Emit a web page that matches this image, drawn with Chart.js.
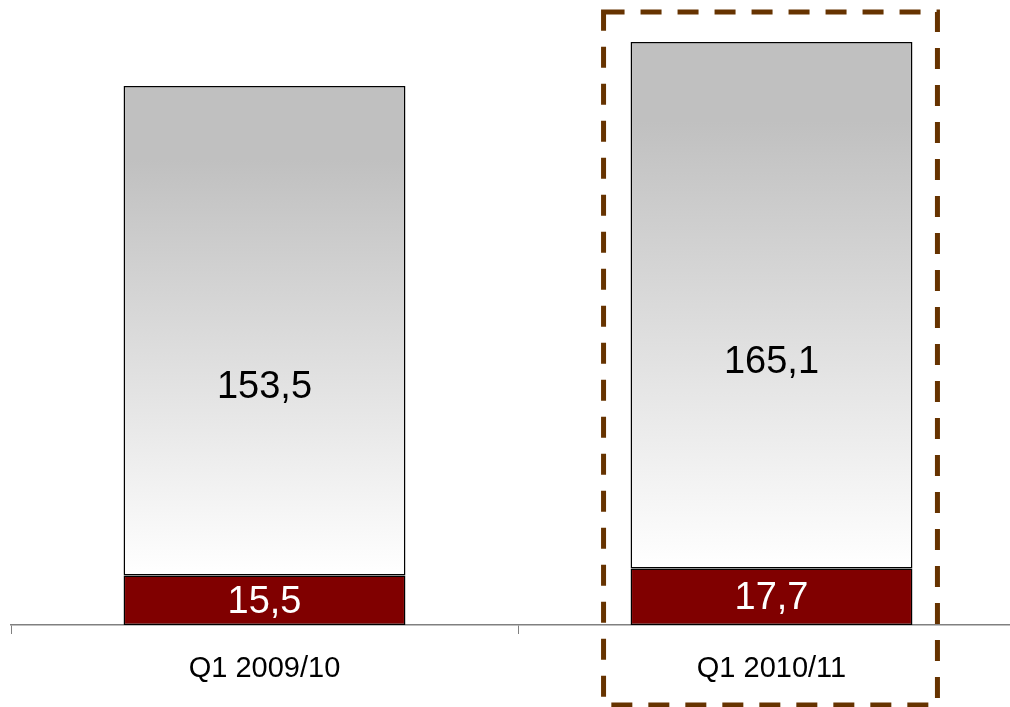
<!DOCTYPE html>
<html>
<head>
<meta charset="utf-8">
<script src="https://cdn.jsdelivr.net/npm/chart.js@4/dist/chart.umd.min.js"></script>
<style>
    html, body { margin: 0; padding: 0; background: #fff; overflow: hidden; }
    #wrap { width: 1025px; height: 707px; }
</style>
</head>
<body>
<div id="wrap"><canvas id="chart" width="1025" height="707"></canvas></div>
<script>
const categories = ["Q1 2009/10", "Q1 2010/11"];
const baseValues = [15.5, 17.7];
const topValues = [153.5, 165.1];
const highlightIndex = 1;

const fontFamily = "'Liberation Sans', Arial, sans-serif";

function formatValue(value) {
    return value.toFixed(1).replace(".", ",");
}

function greyGradient(context) {
    const chart = context.chart;
    if (!chart.chartArea) return "#c0c0c0";
    const yScale = chart.scales.y;
    const i = context.dataIndex;
    const top = yScale.getPixelForValue(baseValues[i] + topValues[i]);
    const bottom = yScale.getPixelForValue(baseValues[i]);
    const gradient = chart.ctx.createLinearGradient(0, top, 0, bottom);
    gradient.addColorStop(0, "#c0c0c0");
    gradient.addColorStop(0.15, "#c0c0c0");
    gradient.addColorStop(1, "#ffffff");
    return gradient;
}

// value labels inside the segments
const valueLabels = {
    id: "valueLabels",
    afterDatasetsDraw(chart) {
        const ctx = chart.ctx;
        ctx.save();
        ctx.font = "38px " + fontFamily;
        ctx.textAlign = "center";
        ctx.textBaseline = "middle";
        chart.data.datasets.forEach((dataset, d) => {
            chart.getDatasetMeta(d).data.forEach((bar, i) => {
                const middle = (bar.base + bar.y) / 2;
                const y = d === 0 ? middle + 2 : middle + 57;
                ctx.fillStyle = d === 0 ? "#ffffff" : "#000000";
                ctx.fillText(formatValue(dataset.data[i]), bar.x, y);
            });
        });
        ctx.restore();
    }
};

// dashed frame round the highlighted quarter
const highlightFrame = {
    id: "highlightFrame",
    afterDraw(chart) {
        const bar = chart.getDatasetMeta(1).data[highlightIndex];
        if (!bar) return;
        const ctx = chart.ctx;
        const left = bar.x - bar.width / 2 - 27;
        const right = bar.x + bar.width / 2 + 25;
        ctx.save();
        ctx.strokeStyle = "#663300";
        ctx.lineWidth = 5;
        ctx.setLineDash([21, 16]);
        ctx.strokeRect(left, 12, right - left, 693);
        ctx.restore();
    }
};

new Chart(document.getElementById("chart"), {
    type: "bar",
    data: {
        labels: categories,
        datasets: [{
            data: baseValues,
            backgroundColor: "#800000",
            borderColor: "#000000",
            borderWidth: 1.5,
            borderSkipped: false
        }, {
            data: topValues,
            backgroundColor: greyGradient,
            borderColor: "#000000",
            borderWidth: 1.5,
            borderSkipped: false
        }]
    },
    options: {
        responsive: false,
        animation: false,
        events: [],
        layout: { padding: { left: 11, right: 0, top: 0, bottom: 0 } },
        datasets: {
            bar: { barPercentage: 0.556, categoryPercentage: 1 }
        },
        scales: {
            x: {
                stacked: true,
                afterFit: (scale) => { scale.height = 82; },
                grid: {
                    drawOnChartArea: false,
                    drawTicks: true,
                    tickLength: 9,
                    color: "#808080"
                },
                border: { color: "#808080", width: 1.5 },
                ticks: {
                    color: "#000000",
                    padding: 18,
                    font: { family: fontFamily, size: 29 }
                }
            },
            y: {
                stacked: true,
                display: false,
                min: 0,
                max: 196
            }
        },
        plugins: {
            legend: { display: false },
            tooltip: { enabled: false }
        }
    },
    plugins: [valueLabels, highlightFrame]
});
</script>
</body>
</html>
